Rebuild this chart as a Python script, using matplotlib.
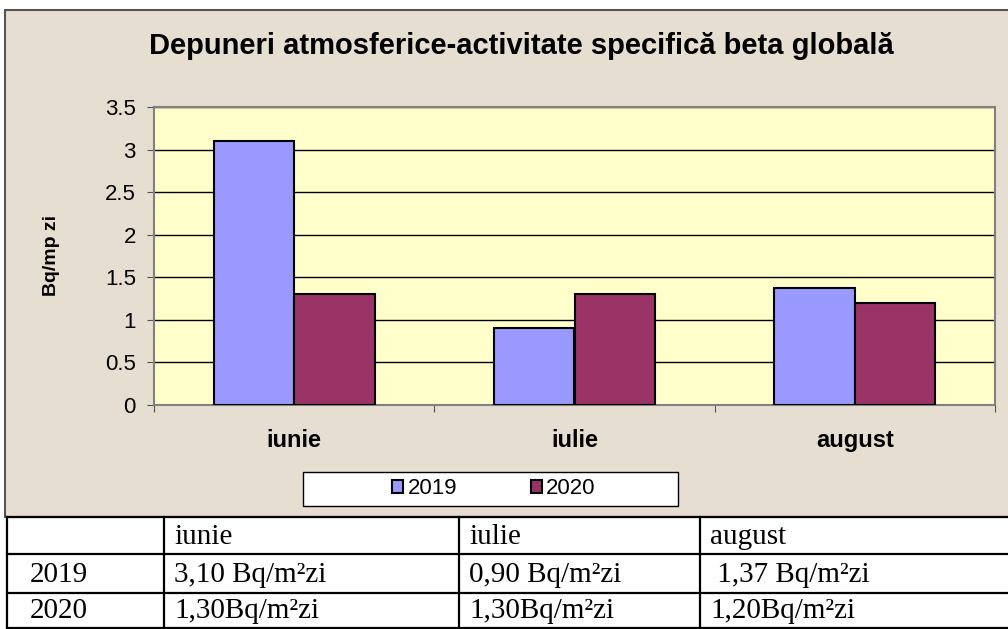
import matplotlib.pyplot as plt
from matplotlib.patches import Rectangle
from matplotlib.lines import Line2D
import numpy as np

# data
months = ['iunie', 'iulie', 'august']
val_2019 = [3.10, 0.90, 1.37]
val_2020 = [1.30, 1.30, 1.20]
years = ['2019', '2020']
row_2019 = ['3,10 Bq/m\u00b2zi', '0,90 Bq/m\u00b2zi', ' 1,37 Bq/m\u00b2zi']
row_2020 = ['1,30Bq/m\u00b2zi', '1,30Bq/m\u00b2zi', '1,20Bq/m\u00b2zi']
yticks = [0, 0.5, 1, 1.5, 2, 2.5, 3, 3.5]
ytick_labels = ['0', '0.5', '1', '1.5', '2', '2.5', '3', '3.5']

W, H = 1008, 629
fig = plt.figure(figsize=(W / 100, H / 100), dpi=100)
fig.patch.set_facecolor('white')

# overlay in pixel coords for frame + table
bg = fig.add_axes([0, 0, 1, 1], zorder=0)
bg.set_xlim(0, W)
bg.set_ylim(H, 0)
bg.axis('off')

# chart frame
bg.add_patch(Rectangle((5, 10), W + 10, 507, facecolor='#e6ded1',
                       edgecolor='#555555', lw=1.5))
bg.text(521, 46, 'Depuneri atmosferice-activitate specific\u0103 beta global\u0103',
        ha='center', va='center', fontsize=21, fontweight='bold',
        family='Liberation Sans')

# plot
ax = fig.add_axes([154 / W, 1 - 405 / H, (995 - 154) / W, (405 - 107) / H], zorder=2)
ax.set_facecolor('#ffffcc')
x = np.arange(len(months))
bw = 0.287
ax.bar(x - bw / 2, val_2019, bw, color='#9999ff', edgecolor='black', lw=1.5,
       label='2019', zorder=3)
ax.bar(x + bw / 2, val_2020, bw, color='#993366', edgecolor='black', lw=1.5,
       label='2020', zorder=3)
ax.set_xlim(-0.5, len(months) - 0.5)
ax.set_ylim(0, 3.5)
ax.set_yticks(yticks)
ax.set_yticklabels(ytick_labels, family='Liberation Sans', fontsize=16)
ax.yaxis.grid(True, color='black', lw=1)
ax.set_axisbelow(True)
ax.set_xticks(np.arange(len(months) + 1) - 0.5)
ax.set_xticklabels([])
ax.set_xticks(x, minor=True)
ax.set_xticklabels(months, minor=True, family='Liberation Sans', fontsize=17,
                   fontweight='bold')
ax.tick_params(axis='x', which='minor', length=0, pad=17)
ax.tick_params(axis='x', which='major', length=5, color='#555555', direction='out')
ax.tick_params(axis='y', length=5, color='#555555', pad=8)
for s in ax.spines.values():
    s.set_color('#808080')
    s.set_linewidth(1.5)
ax.set_ylabel('Bq/mp zi', family='Liberation Sans', fontsize=14, fontweight='bold')
ax.yaxis.set_label_coords((60 - 154) / (995 - 154), 0.5)

# legend
bg.add_patch(Rectangle((303, 472), 375, 34, facecolor='white', edgecolor='black', lw=1))
fig.legend(loc='center', bbox_to_anchor=(494 / W, 1 - 489 / H), ncol=2, frameon=False,
           prop={'family': 'Liberation Sans', 'size': 16}, handlelength=0.5,
           handleheight=0.5, handletextpad=0.2, columnspacing=3.3)

# table
col_x = [7, 164, 459, 700]
row_y = [517, 554, 593, 628]
for yy in row_y:
    bg.add_line(Line2D([7, W], [yy, yy], color='black', lw=1.6))
for xx in col_x:
    bg.add_line(Line2D([xx, xx], [517, 629], color='black', lw=1.6))
tkw = dict(family='Liberation Serif', fontsize=21, va='center', ha='left')
for i, m in enumerate(months):
    bg.text(col_x[i + 1] + 10, (row_y[0] + row_y[1]) / 2 + 1, m, **tkw)
    bg.text(col_x[i + 1] + 10, (row_y[1] + row_y[2]) / 2 + 1, row_2019[i], **tkw)
    bg.text(col_x[i + 1] + 10, (row_y[2] + row_y[3]) / 2 + 1, row_2020[i], **tkw)
bg.text(30, (row_y[1] + row_y[2]) / 2 + 1, years[0], **tkw)
bg.text(30, (row_y[2] + row_y[3]) / 2 + 1, years[1], **tkw)

fig.savefig('out.png', dpi=100)
